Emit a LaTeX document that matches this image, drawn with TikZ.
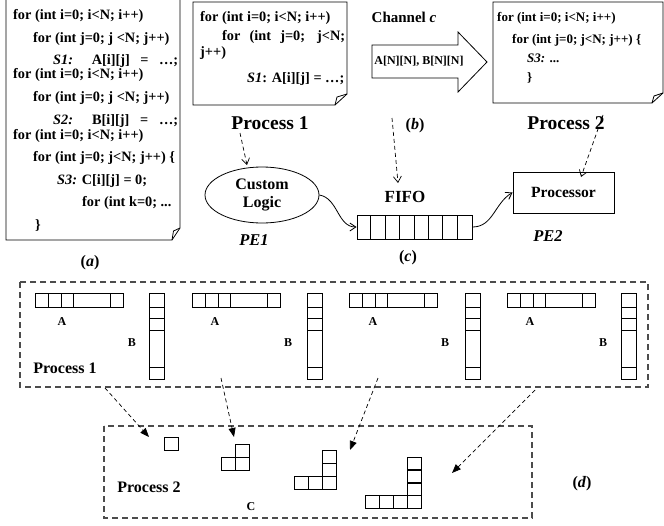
\documentclass[tikz,border=0pt]{standalone}
\usepackage{fontspec}
\setmainfont{Liberation Serif}
\usetikzlibrary{arrows.meta,shapes.geometric,calc}
\begin{document}
\begin{tikzpicture}[x=1pt,y=1pt,
  line/.style={draw=black,line width=0.8pt},
  code/.style={anchor=west,inner sep=0pt,font=\fontsize{14.3}{16}\selectfont\bfseries},
  codesm/.style={anchor=west,inner sep=0pt,font=\fontsize{13}{15}\selectfont\bfseries},
  lbl/.style={inner sep=0pt,font=\fontsize{19.5}{22}\selectfont\bfseries},
  mid/.style={inner sep=0pt,font=\fontsize{16}{18}\selectfont\bfseries},
  small/.style={inner sep=0pt,font=\fontsize{12}{14}\selectfont\bfseries},
  dasharrow/.style={draw=black,line width=0.7pt,dash pattern=on 4pt off 3pt,-{Straight Barb[length=6pt,width=8pt]}},
  darrow/.style={draw=black,line width=0.7pt,dash pattern=on 4pt off 3pt,-{Triangle[length=9pt,width=7pt]}},
  curvearrow/.style={draw=black,line width=0.8pt,-{Straight Barb[length=6pt,width=8pt]}},
  dbox/.style={draw=black!70,line width=1.2pt,dash pattern=on 6pt off 4pt},
  cell/.style={draw=black,line width=0.9pt}]
\useasboundingbox (0,0) rectangle (664,-525);

% ---------- (a) ----------
\draw[line] (6,3) -- (6,-240) -- (172,-240) -- (180,-228) -- (180,3);
\draw[line] (172,-240) -- (173.5,-231) -- (180,-228);
\node[code] (a1) at (13,-16) {for (int i=0; i<N; i++)};
\node[code] (a2) at (33,-39) {for (int j=0; j <N; j++)};
\node[code] (a3) at (53,-61) {\makebox[125pt][s]{\textit{S1:} A[i][j] = …;}};
\node[code] (a4) at (13,-75) {for (int i=0; i<N; i++)};
\node[code] (a5) at (33,-98) {for (int j=0; j <N; j++)};
\node[code] (a6) at (53,-121) {\makebox[125pt][s]{\textit{S2:} B[i][j] = …;}};
\node[code] (a7) at (13,-136) {for (int i=0; i<N; i++)};
\node[code] (a8) at (33,-158) {for (int j=0; j<N; j++) \{};
\node[code] (a9) at (57,-181) {\textit{S3:} C[i][j] = 0;};
\node[code] (a10) at (82,-203) {for (int k=0; ...};
\node[code] (a11) at (35,-225) {\}};
\node[mid] (la) at (90,-263) {(\textit{a})};

% ---------- (b) ----------
\draw[line] (193,-2) -- (193,-105) -- (335,-105) -- (347,-94) -- (347,-2) -- cycle;
\draw[line] (335,-105) -- (337,-97) -- (347,-94);
\node[code] (b1) at (200,-18) {for (int i=0; i<N; i++)};
\node[code] (b2) at (222,-37) {\makebox[123pt][s]{for (int j=0; j<N;}};
\node[code] (b3) at (200,-53) {j++)};
\node[code] (b4) at (247,-79) {\textit{S1}: A[i][j] = …;};
\node[lbl] (p1) at (270,-123) {Process 1};

\node[mid,font=\fontsize{15}{17}\selectfont\bfseries] (chc) at (404,-17) {Channel \textit{c}};
\draw[line] (372,-45) -- (458,-45) -- (458,-32) -- (487,-62) -- (458,-92) -- (458,-78) -- (372,-78) -- cycle;
\node[small] (chan) at (419,-61) {A[N][N], B[N][N]};
\node[mid] (lb) at (415,-126) {(\textit{b})};

\draw[line] (493,-2) -- (493,-103) -- (652,-103) -- (663,-93) -- (663,-2) -- cycle;
\draw[line] (652,-103) -- (654,-96) -- (663,-93);
\node[codesm] (c1) at (497,-18) {for (int i=0; i<N; i++)};
\node[codesm] (c2) at (512,-40) {for (int j=0; j<N; j++) \{};
\node[codesm] (c3) at (527,-58) {\textit{S3:} ...};
\node[codesm] (c4) at (527,-78) {\}};
\node[lbl] (p2) at (566,-123) {Process 2};

% ---------- (c) ----------
\node[ellipse,draw,line width=0.8pt,minimum width=114pt,minimum height=56pt,inner sep=0pt,align=center,font=\fontsize{16}{18}\selectfont\bfseries] (cl) at (262,-195) {Custom\\Logic};
\node[mid,font=\fontsize{16.5}{18}\selectfont\bfseries\itshape] (pe1) at (254,-240) {PE1};
\node[mid,font=\fontsize{17}{19}\selectfont\bfseries] (fifolbl) at (405,-197) {FIFO};
\node[draw,line width=0.9pt,minimum width=115pt,minimum height=24pt,inner sep=0pt] (fifo) at (414.5,-227) {};
\foreach \i in {1,...,7} \draw[cell] ($(fifo.south west)+(\i*14.375,0)$) -- ++(0,24);
\node[mid] (lc) at (408,-258) {(\textit{c})};
\node[draw,line width=0.8pt,minimum width=101pt,minimum height=41pt,inner sep=0pt,font=\fontsize{15.6}{18}\selectfont\bfseries] (proc) at (563.5,-192.5) {Processor};
\node[mid,font=\fontsize{16.5}{18}\selectfont\bfseries\itshape] (pe2) at (548,-236) {PE2};

\coordinate (p1s) at (240,-133);
\coordinate (cls) at (247,-165);
\coordinate (bs) at (392,-118);
\coordinate (fs) at (398,-183);
\coordinate (p2s) at (603,-115);
\coordinate (prs) at (581,-177);
\draw[dasharrow] (p1s) -- (cls);
\draw[dasharrow] (bs) -- (fs);
\draw[dasharrow] (p2s) -- (prs);
\draw[curvearrow] (cl.east) to[out=-10,in=180] (fifo.west);
\draw[curvearrow] (fifo.east) to[out=0,in=210] (proc.west);

% ---------- (d) ----------
\draw[dbox] (20,-282) rectangle (648,-387);
\foreach \o/\bo in {0/0,157/158,314/316,472/472} {
  \draw[cell] (35+\o,-293) rectangle (123+\o,-307);
  \foreach \xx in {48,61,73,110} \draw[cell] (\xx+\o,-293) -- (\xx+\o,-307);
  \draw[cell] (149+\bo,-293) rectangle (164+\bo,-379);
  \foreach \yy in {307,318,330,367} \draw[cell] (149+\bo,-\yy) -- (164+\bo,-\yy);
}
\foreach \o/\n in {62/1,215/2,373/3,530/4} \node[small] (A\n) at (\o,-322) {A};
\foreach \o/\n in {132/1,288/2,445/3,603/4} \node[small] (B\n) at (\o,-343) {B};
\node[mid] (dp1) at (65,-368) {Process 1};

\draw[dbox] (104,-426) rectangle (532,-518);
\node[mid] (dp2) at (149,-487) {Process 2};
\node[small] (C) at (251,-507) {C};
\node[mid] (ld) at (582,-484) {(\textit{d})};
% C blocks
\draw[cell] (164,-437) rectangle (178,-450);
\draw[cell] (235,-444) rectangle (249,-457);
\draw[cell] (221,-457) rectangle (235,-470);
\draw[cell] (235,-457) rectangle (249,-470);
\foreach \yy in {450,463} \draw[cell] (322,-\yy) rectangle (336,-\yy-13);
\foreach \xx in {294,308,322} \draw[cell] (\xx,-476) rectangle (\xx+14,-489);
\foreach \yy in {457,470,483} \draw[cell] (407,-\yy) rectangle (421,-\yy-12.5);
\foreach \xx in {365,379,393,407} \draw[cell] (\xx,-495.5) rectangle (\xx+14,-508);

\coordinate (d1s) at (105,-388);
\coordinate (d1e) at (149,-437);
\coordinate (d2s) at (221,-378);
\coordinate (d2e) at (234,-437);
\coordinate (d3s) at (378,-378);
\coordinate (d3e) at (350,-450);
\coordinate (d4s) at (535,-390);
\coordinate (d4e) at (452,-473);
\draw[darrow] (d1s) -- (d1e);
\draw[darrow] (d2s) -- (d2e);
\draw[darrow] (d3s) -- (d3e);
\draw[darrow] (d4s) -- (d4e);
\end{tikzpicture}
\end{document}
